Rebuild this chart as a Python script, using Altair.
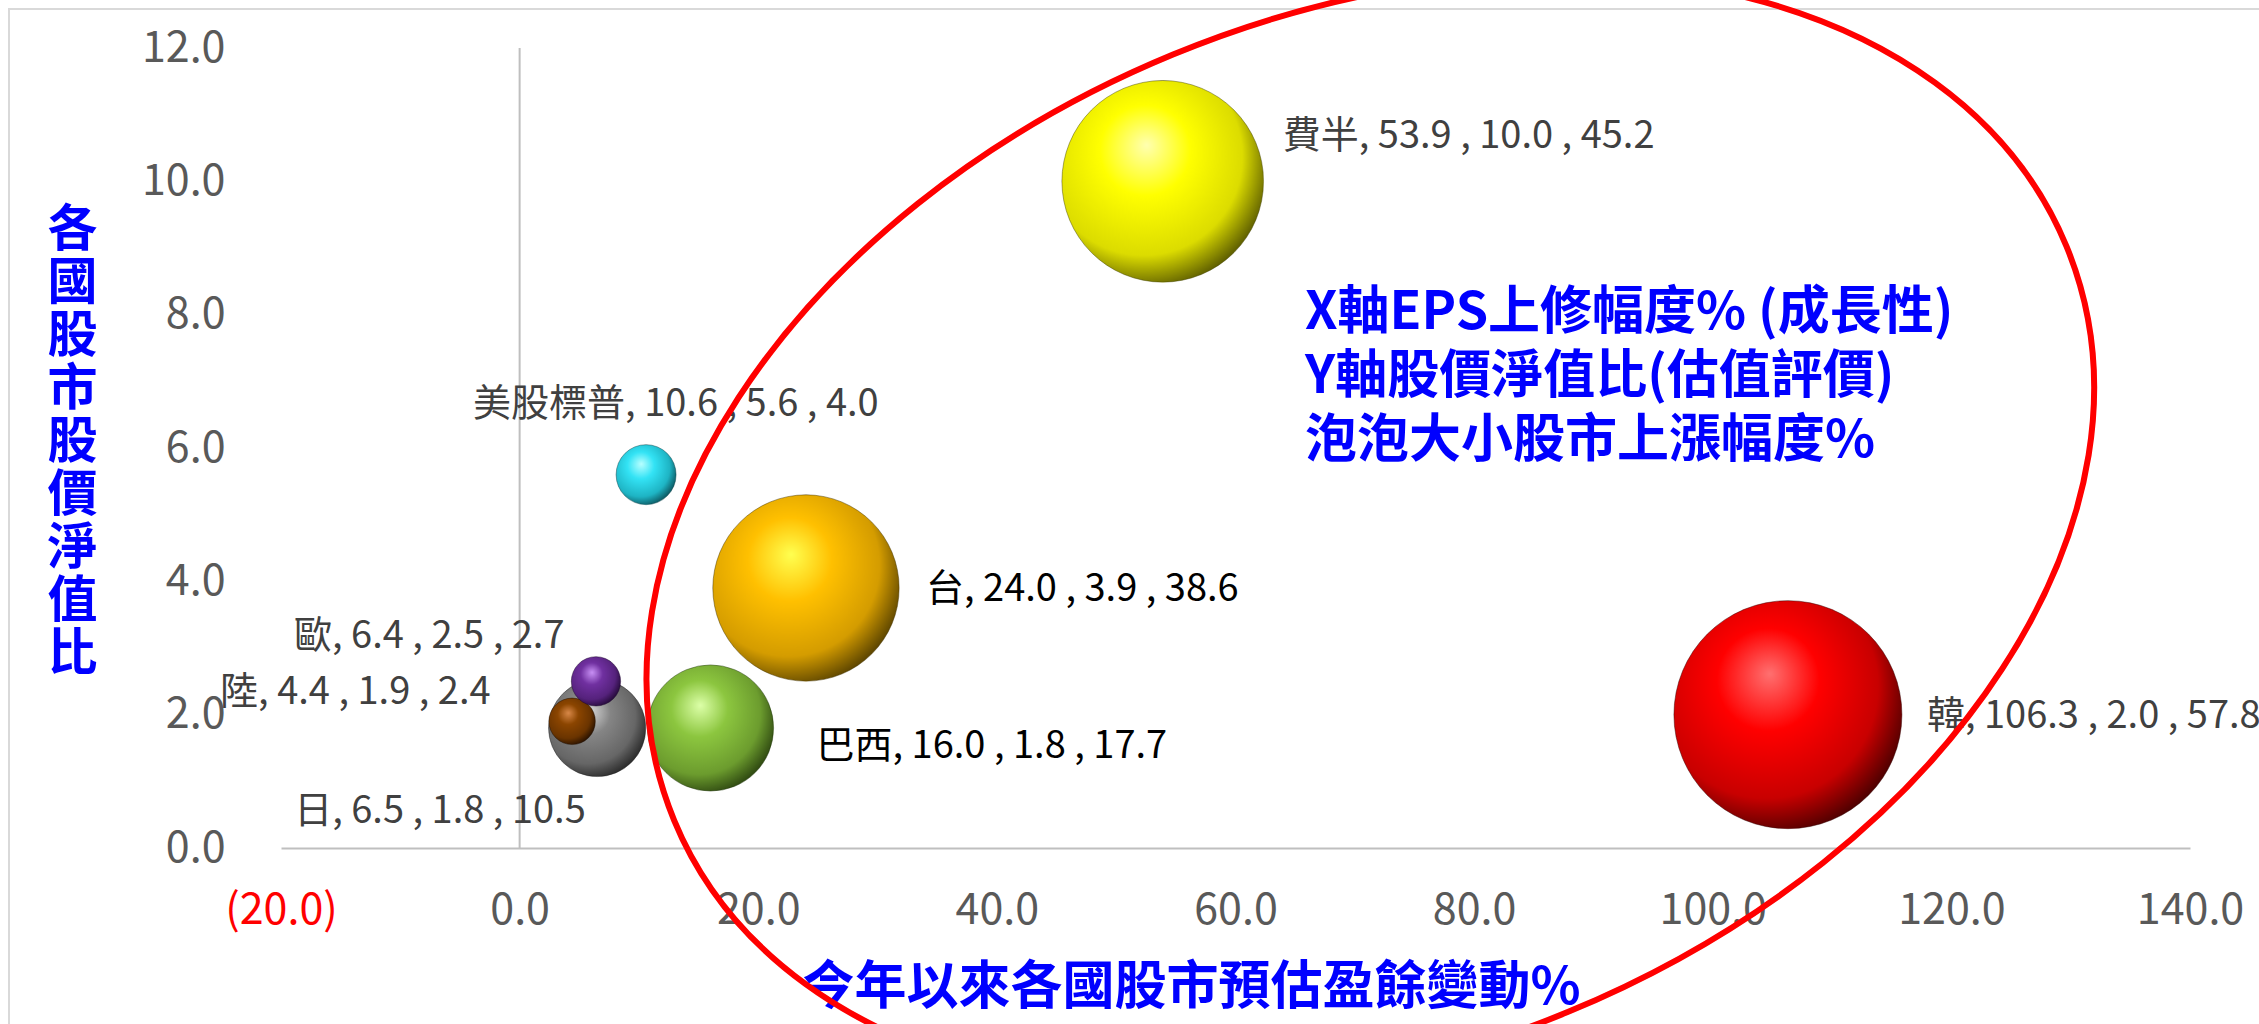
import altair as alt
import pandas as pd

# ---------------- data ----------------
names = ["韓", "費半", "台", "巴西", "美股標普", "日", "陸", "歐"]
eps_change = [106.3, 53.9, 24.0, 16.0, 10.6, 6.5, 4.4, 6.4]      # x: 今年以來預估盈餘變動%
pb_ratio = [2.0, 10.0, 3.9, 1.8, 5.6, 1.8, 1.9, 2.5]             # y: 股價淨值比
price_change = [57.8, 45.2, 38.6, 17.7, 4.0, 10.5, 2.4, 2.7]     # bubble: 股市上漲幅度%

x_ticks = [-20, 0, 20, 40, 60, 80, 100, 120, 140]
y_ticks = [0, 2, 4, 6, 8, 10, 12]

x_title = "今年以來各國股市預估盈餘變動%"
y_title = "各國股市股價淨值比"
note_lines = ["X軸EPS上修幅度% (成長性)", "Y軸股價淨值比(估值評價)", "泡泡大小股市上漲幅度%"]

# annotation ellipse centre (data coordinates)
ellipse_x = [71.3]
ellipse_y = [4.72]

# ---------------- styles ----------------
FONT = "Noto Sans CJK TC"
sphere = {
    "韓": ("#ff7070", "#ff0000", "#c80000", "#300000"),
    "費半": ("#ffffb0", "#ffff00", "#dcdc00", "#404000"),
    "台": ("#ffff50", "#ffc000", "#d49c00", "#403000"),
    "巴西": ("#dcffa8", "#8cc63f", "#6c9c2e", "#20350a"),
    "美股標普": ("#b8ffff", "#33e3f5", "#1eb4c4", "#084048"),
    "日": ("#d8d8d8", "#858585", "#666666", "#1c1c1c"),
    "陸": ("#d88848", "#8b4500", "#6a3400", "#1a0a00"),
    "歐": ("#c890f5", "#7030a0", "#55227c", "#1a052a"),
}
label_style = {
    # dx, dy, colour
    "韓": (139, 2, "#404040"),
    "費半": (120, -44, "#404040"),
    "台": (120, 2, "#000000"),
    "巴西": (106, 19, "#000000"),
    "美股標普": (-173, -70, "#404040"),
    "日": (-303, 84, "#404040"),
    "陸": (-352, -28, "#404040"),
    "歐": (-302, -44, "#404040"),
}

df = pd.DataFrame({"name": names, "x": eps_change, "y": pb_ratio, "s": price_change})

x_enc = alt.X(
    "x:Q",
    scale=alt.Scale(domain=[-20, 140], nice=False, zero=False),
    axis=alt.Axis(
        values=x_ticks,
        title=x_title,
        titleFont=FONT, titleFontSize=52, titleFontWeight="bold", titleColor="#0000ff",
        titleX=910, titleY=139, titleAlign="center", titleBaseline="middle",
        labelExpr="datum.value < 0 ? '(' + format(-datum.value, '.1f') + ')' : format(datum.value, '.1f')",
        labelColor={"condition": {"test": "datum.value < 0", "value": "#ff0000"}, "value": "#595959"},
        labelFont=FONT, labelFontSize=43, labelPadding=62, labelBaseline="middle",
        labelFlush=False, labelOverlap=False,
        grid=False, ticks=False, tickSize=0,
        domain=True, domainColor="#bfbfbf", domainWidth=2,
    ),
)
y_enc = alt.Y(
    "y:Q",
    scale=alt.Scale(domain=[0, 12], nice=False, zero=True),
    axis=alt.Axis(
        values=y_ticks,
        title=list(y_title),
        titleFont=FONT, titleFontSize=50, titleFontWeight="bold", titleColor="#0000ff",
        titleAngle=0, titleX=-209, titleY=197, titleAlign="center", titleBaseline="alphabetic",
        titleLineHeight=53,
        format=".1f",
        labelColor="#595959", labelFont=FONT, labelFontSize=43, labelPadding=56,
        labelFlush=False, labelOverlap=False,
        grid=False, ticks=False, tickSize=0, domain=False,
    ),
)
size_enc = alt.Size("s:Q", scale=alt.Scale(domain=[0, 57.8], range=[0, 51984]), legend=None)

layers = []

# chart border
border = alt.Chart(pd.DataFrame({"k": [0]})).mark_rect(
    filled=False, stroke="#d9d9d9", strokeWidth=2
).encode(x=alt.value(-272), x2=alt.value(2300), y=alt.value(-39), y2=alt.value(1300))
layers.append(border)

# vertical axis line at x = 0
vline = alt.Chart(pd.DataFrame({"x": [0]})).mark_rule(color="#bfbfbf", strokeWidth=2).encode(x=x_enc)
layers.append(vline)

# bubbles
for n in names:
    hi, base, mid, dark = sphere[n]
    grad = alt.RadialGradient(
        gradient="radial",
        stops=[
            alt.GradientStop(color=hi, offset=0),
            alt.GradientStop(color=base, offset=0.33),
            alt.GradientStop(color=mid, offset=0.72),
            alt.GradientStop(color=dark, offset=1),
        ],
        x1=0.42, y1=0.32, r1=0,
        x2=0.4, y2=0.4, r2=0.68,
    )
    layers.append(
        alt.Chart(df).transform_filter(alt.datum.name == n).mark_circle(
            fill=grad, opacity=1, stroke=dark, strokeWidth=1, strokeOpacity=0.45
        ).encode(x=x_enc, y=y_enc, size=size_enc)
    )

# data labels
for n in names:
    dx, dy, col = label_style[n]
    layers.append(
        alt.Chart(df).transform_filter(alt.datum.name == n).transform_calculate(
            label="datum.name + ', ' + format(datum.x, '.1f') + ' , ' + format(datum.y, '.1f') + ' , ' + format(datum.s, '.1f')"
        ).mark_text(
            align="left", baseline="middle", dx=dx, dy=dy, font=FONT, fontSize=38, color=col
        ).encode(x=x_enc, y=y_enc, text="label:N")
    )

# red annotation ellipse (with a faint shadow)
r = 0.6877
k = 0.5523
kr = k * r
ellipse_path = (
    f"M 1 0 C 1 {kr:.4f} {k} {r} 0 {r} C {-k} {r} -1 {kr:.4f} -1 0 "
    f"C -1 {-kr:.4f} {-k} {-r} 0 {-r} C {k} {-r} 1 {-kr:.4f} 1 0 Z"
)
ell_df = pd.DataFrame({"x": ellipse_x, "y": ellipse_y})
shadow = alt.Chart(ell_df).mark_point(
    shape=ellipse_path, filled=False, stroke="#9a9a9a", strokeWidth=5, opacity=0.35,
    size=1506 * 1506, angle=337.6, dx=3, dy=3,
).encode(x=x_enc, y=y_enc)
layers.append(shadow)
ell = alt.Chart(ell_df).mark_point(
    shape=ellipse_path, filled=False, stroke="#ff0000", strokeWidth=6, opacity=1,
    size=1506 * 1506, angle=337.6,
).encode(x=x_enc, y=y_enc)
layers.append(ell)

# note text
note = alt.Chart(pd.DataFrame({"k": [0]})).mark_text(
    align="left", baseline="alphabetic", font=FONT, fontSize=52, fontWeight="bold",
    color="#0000ff", lineHeight=64,
).encode(x=alt.value(1024), y=alt.value(281), text=alt.value(note_lines))
layers.append(note)

chart = alt.layer(*layers).properties(
    width=1909,
    height=800,
    autosize=alt.AutoSizeParams(type="none"),
    padding={"left": 281, "top": 48, "right": 69, "bottom": 176},
    background="#ffffff",
).configure_view(stroke="transparent")

chart.save("out.html", embed_options={"renderer": "svg", "actions": False})
